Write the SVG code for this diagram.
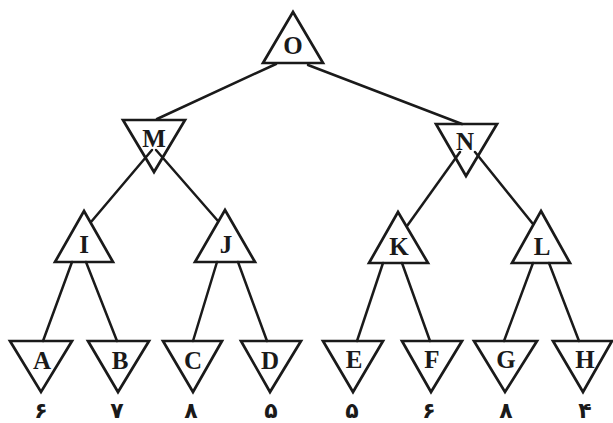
<svg xmlns="http://www.w3.org/2000/svg" width="613" height="423" viewBox="0 0 613 423">
<style>
.tri{fill:none;stroke:#1a1a1a;stroke-width:2.7;stroke-linejoin:miter}
.edge{stroke:#1a1a1a;stroke-width:2.5;stroke-linecap:round;fill:none}
.lbl{font-family:"Liberation Serif","Times New Roman",serif;font-weight:bold;font-size:25px;fill:#1a1a1a;text-anchor:middle}
.val{font-family:"DejaVu Sans","Noto Sans",sans-serif;font-weight:bold;font-size:22px;fill:#1a1a1a;text-anchor:middle}
</style>
<rect width="613" height="423" fill="#ffffff"/>
<g id="connectors">
<line class="edge" x1="276" y1="64" x2="157" y2="119"/>
<line class="edge" x1="308" y1="65" x2="462" y2="124"/>
<line class="edge" x1="152" y1="150" x2="91" y2="222"/>
<line class="edge" x1="156" y1="150" x2="218" y2="221"/>
<line class="edge" x1="460" y1="152" x2="407" y2="226"/>
<line class="edge" x1="475" y1="152" x2="533" y2="224"/>
<line class="edge" x1="72" y1="262" x2="43" y2="341"/>
<line class="edge" x1="86" y1="262" x2="117" y2="341"/>
<line class="edge" x1="217" y1="262" x2="193" y2="341"/>
<line class="edge" x1="238" y1="262" x2="267" y2="341"/>
<line class="edge" x1="383" y1="263" x2="357" y2="341"/>
<line class="edge" x1="402" y1="263" x2="430" y2="341"/>
<line class="edge" x1="533" y1="263" x2="504" y2="341"/>
<line class="edge" x1="549" y1="263" x2="579" y2="341"/>
</g>
<g id="node-O"><polygon class="tri" points="293,12 323,63 263,63"/><text class="lbl" x="293" y="54">O</text></g>
<g id="node-M"><polygon class="tri" points="123,120 185,120 154,172"/><text class="lbl" x="154" y="147">M</text></g>
<g id="node-N"><polygon class="tri" points="436,124 497,124 466,176"/><text class="lbl" x="465" y="150">N</text></g>
<g id="node-I"><polygon class="tri" points="84,211 113,262 55,262"/><text class="lbl" x="84" y="253">I</text></g>
<g id="node-J"><polygon class="tri" points="225,210 255,262 195,262"/><text class="lbl" x="226" y="253">J</text></g>
<g id="node-K"><polygon class="tri" points="398,212 428,263 369,263"/><text class="lbl" x="399" y="255">K</text></g>
<g id="node-L"><polygon class="tri" points="541,211 570,263 512,263"/><text class="lbl" x="542" y="255">L</text></g>
<g id="node-A"><polygon class="tri" points="10,341 72,341 41,392"/><text class="lbl" x="42" y="369">A</text><text class="val" x="41" y="418">۶</text></g>
<g id="node-B"><polygon class="tri" points="88,341 149,341 118,392"/><text class="lbl" x="120" y="369">B</text><text class="val" x="117" y="418">۷</text></g>
<g id="node-C"><polygon class="tri" points="163,341 222,341 193,392"/><text class="lbl" x="193" y="369">C</text><text class="val" x="191" y="418">۸</text></g>
<g id="node-D"><polygon class="tri" points="241,341 301,341 270,392"/><text class="lbl" x="270" y="369">D</text><text class="val" x="271" y="418">۵</text></g>
<g id="node-E"><polygon class="tri" points="323,341 383,341 353,392"/><text class="lbl" x="354" y="368">E</text><text class="val" x="352" y="418">۵</text></g>
<g id="node-F"><polygon class="tri" points="402,341 462,341 431,392"/><text class="lbl" x="432" y="368">F</text><text class="val" x="429" y="418">۶</text></g>
<g id="node-G"><polygon class="tri" points="474,341 537,341 505,392"/><text class="lbl" x="506" y="368">G</text><text class="val" x="506" y="418">۸</text></g>
<g id="node-H"><polygon class="tri" points="553,341 612,341 583,392"/><text class="lbl" x="585" y="368">H</text><text class="val" x="585" y="418">۴</text></g>
</svg>
